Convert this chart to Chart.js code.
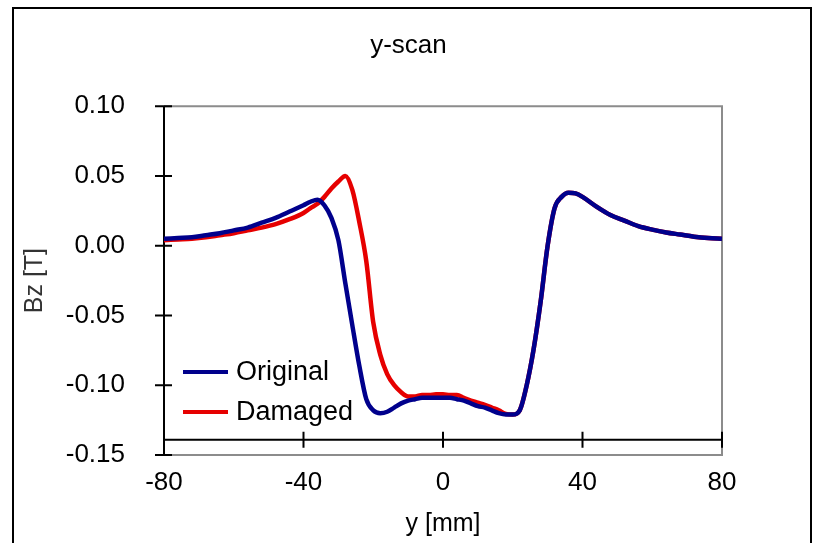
<!DOCTYPE html>
<html>
<head>
<meta charset="utf-8">
<script src="https://cdn.jsdelivr.net/npm/chart.js@4/dist/chart.umd.min.js"></script>
<style>
  body { margin: 0; background: #fff; }
  #wrap { position: relative; width: 817px; height: 543px; overflow: hidden; }
  #frame { position: absolute; left: 12px; top: 7px; width: 796px; height: 600px; border: 2px solid #000; pointer-events: none; }
  canvas { position: absolute; left: 0; top: 0; }
</style>
</head>
<body>
<div id="wrap">
  <canvas id="canvas" width="817" height="543"></canvas>
  <div id="frame"></div>
</div>
<script>
// y position [mm]
var yPos = [-80, -76, -72, -68, -64, -60, -56, -52, -48, -44, -40, -38, -36, -34, -32, -30, -28, -26, -24, -22,
	-20, -18, -16, -14, -12, -10, -8, -6, -4, -2, 0, 2, 4, 6, 8, 10, 12, 14, 16, 18,
	20, 22, 24, 26, 28, 30, 32, 34, 36, 38, 40, 44, 48, 52, 56, 60, 64, 68, 72, 76, 80];

// Bz [T]
var original = [0.005, 0.0055, 0.006, 0.0075, 0.009, 0.011, 0.013, 0.0165, 0.020, 0.0245, 0.029, 0.0315, 0.033, 0.029, 0.020, 0.004, -0.027, -0.057, -0.086, -0.110,
	-0.118, -0.120, -0.119, -0.116, -0.113, -0.111, -0.110, -0.109, -0.109, -0.109, -0.109, -0.109, -0.110, -0.111, -0.113, -0.115, -0.116, -0.118, -0.120, -0.121,
	-0.121, -0.118, -0.100, -0.074, -0.040, 0.000, 0.027, 0.035, 0.038, 0.0375, 0.035, 0.028, 0.022, 0.018, 0.014, 0.0115, 0.0095, 0.008, 0.0065, 0.0055, 0.005];

var damaged = [0.004, 0.0045, 0.005, 0.006, 0.0075, 0.009, 0.011, 0.013, 0.0155, 0.019, 0.0235, 0.027, 0.030, 0.035, 0.041, 0.046, 0.050, 0.040, 0.017, -0.011,
	-0.055, -0.078, -0.092, -0.100, -0.105, -0.108, -0.108, -0.107, -0.107, -0.1065, -0.1065, -0.107, -0.107, -0.109, -0.111, -0.1125, -0.114, -0.116, -0.118, -0.1205,
	-0.121, -0.118, -0.100, -0.074, -0.040, 0.000, 0.027, 0.035, 0.038, 0.0375, 0.035, 0.028, 0.022, 0.018, 0.014, 0.0115, 0.0095, 0.008, 0.0065, 0.0055, 0.005];

var seriesNames = ['Original', 'Damaged'];
var seriesColors = ['#00008c', '#e60000'];
var xTicks = [-80, -40, 0, 40, 80];
var yTicks = [-0.15, -0.10, -0.05, 0.00, 0.05, 0.10];
var xAxisCross = -0.139; // value where the x axis line crosses

function toPoints(vals) {
	var pts = [];
	for (var i = 0; i < yPos.length; i++) {
		pts.push({x: yPos[i], y: vals[i]});
	}
	return pts;
}

var FONT = '"Liberation Sans", Arial, sans-serif';

// frame, axis lines with crossing tick marks, and the inside legend
var axesPlugin = {
	id: 'excelAxes',
	beforeDatasetsDraw: function(chart) {
		var ctx = chart.ctx, a = chart.chartArea;
		var xs = chart.scales.x, ys = chart.scales.y;
		ctx.save();
		ctx.strokeStyle = '#8c8c8c';
		ctx.lineWidth = 2;
		ctx.beginPath();
		ctx.moveTo(a.left, a.top);
		ctx.lineTo(a.right, a.top);
		ctx.lineTo(a.right, a.bottom);
		ctx.lineTo(a.left, a.bottom);
		ctx.stroke();

		ctx.strokeStyle = '#000';
		ctx.beginPath();
		ctx.moveTo(a.left, a.top);
		ctx.lineTo(a.left, a.bottom);
		yTicks.forEach(function(v) {
			var py = ys.getPixelForValue(v);
			ctx.moveTo(a.left - 9, py);
			ctx.lineTo(a.left + 8, py);
		});
		var cy = ys.getPixelForValue(xAxisCross);
		ctx.moveTo(a.left, cy);
		ctx.lineTo(a.right, cy);
		xTicks.forEach(function(v) {
			var px = xs.getPixelForValue(v);
			ctx.moveTo(px, cy - 8);
			ctx.lineTo(px, cy + 8);
		});
		ctx.stroke();
		ctx.restore();
	},
	afterDatasetsDraw: function(chart) {
		var ctx = chart.ctx, a = chart.chartArea;
		ctx.save();
		ctx.font = '27px ' + FONT;
		ctx.textBaseline = 'middle';
		ctx.fillStyle = '#000';
		for (var i = 0; i < seriesNames.length; i++) {
			var ly = a.bottom - 83 + i * 40;
			ctx.strokeStyle = seriesColors[i];
			ctx.lineWidth = 4;
			ctx.beginPath();
			ctx.moveTo(a.left + 19, ly);
			ctx.lineTo(a.left + 64, ly);
			ctx.stroke();
			ctx.fillText(seriesNames[i], a.left + 72, ly + 1);
		}
		ctx.restore();
	}
};

var ctx = document.getElementById('canvas').getContext('2d');
window.myChart = new Chart(ctx, {
	type: 'scatter',
	data: {
		datasets: [{
			label: seriesNames[0],
			data: toPoints(original),
			borderColor: seriesColors[0],
			backgroundColor: seriesColors[0],
			borderWidth: 4.5,
			showLine: true,
			pointRadius: 0,
			cubicInterpolationMode: 'monotone'
		}, {
			label: seriesNames[1],
			data: toPoints(damaged),
			borderColor: seriesColors[1],
			backgroundColor: seriesColors[1],
			borderWidth: 4.5,
			showLine: true,
			pointRadius: 0,
			cubicInterpolationMode: 'monotone'
		}]
	},
	options: {
		responsive: false,
		animation: false,
		devicePixelRatio: 1,
		layout: {
			padding: {left: 0, right: 0, top: 0, bottom: 4}
		},
		plugins: {
			legend: {display: false},
			tooltip: {enabled: false},
			title: {
				display: true,
				text: 'y-scan',
				color: '#000',
				font: {family: FONT, size: 26, weight: 'normal'},
				padding: {top: 30, bottom: 45}
			}
		},
		scales: {
			x: {
				type: 'linear',
				min: -80,
				max: 80,
				afterBuildTicks: function(scale) {
					scale.ticks = xTicks.map(function(v) { return {value: v}; });
				},
				afterFit: function(scale) {
					scale.height = 84;
				},
				grid: {display: false, drawTicks: false},
				border: {display: false},
				ticks: {
					color: '#000',
					font: {family: FONT, size: 26},
					padding: 12,
					maxRotation: 0
				},
				title: {
					display: true,
					text: 'y [mm]',
					color: '#000',
					font: {family: FONT, size: 25},
					padding: {top: 9, bottom: 0}
				}
			},
			y: {
				min: -0.15,
				max: 0.10,
				afterBuildTicks: function(scale) {
					scale.ticks = yTicks.map(function(v) { return {value: v}; });
				},
				afterFit: function(scale) {
					scale.width = 164;
				},
				grid: {display: false, drawTicks: false},
				border: {display: false},
				ticks: {
					color: '#000',
					font: {family: FONT, size: 26},
					padding: 39,
					callback: function(v) {
						if (Math.abs(v) < 1e-9) return '0.00';
						return v.toFixed(2);
					}
				},
				title: {
					display: true,
					text: 'Bz [T]',
					color: '#333',
					font: {family: FONT, size: 25},
					padding: {top: 20, bottom: 0}
				}
			},
			yRight: {
				position: 'right',
				afterFit: function(scale) {
					scale.width = 95;
				},
				grid: {display: false, drawTicks: false},
				border: {display: false},
				ticks: {display: false}
			}
		}
	},
	plugins: [axesPlugin]
});
</script>
</body>
</html>
